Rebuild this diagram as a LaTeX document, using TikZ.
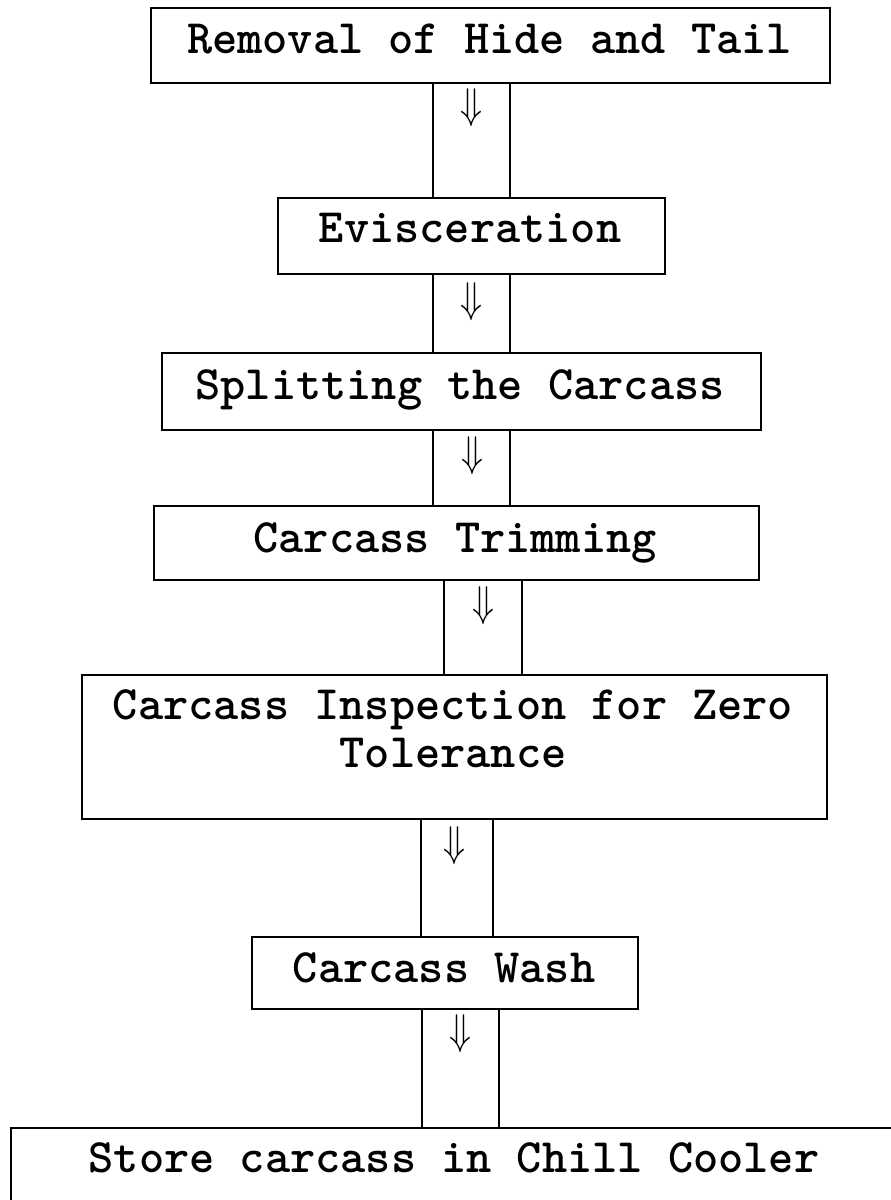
\documentclass[tikz,border=0pt]{standalone}
\begin{document}
\begin{tikzpicture}[x=1pt,y=-1pt,
  box/.style={draw, line width=1.6pt, inner sep=0pt, anchor=north west},
  lbl/.style={font=\ttfamily\bfseries\fontsize{48}{54}\selectfont, anchor=base, inner sep=0pt},
  flow/.style={inner sep=0pt},
  wall/.style={line width=1.6pt}]
\useasboundingbox (0,0) rectangle (891,1200);
\clip (0,0) rectangle (891,1200);

% process steps
\node[box, minimum width=679, minimum height=75] (b1) at (150,7) {};
\node[box, minimum width=387, minimum height=76] (b2) at (277,197) {};
\node[box, minimum width=599, minimum height=77] (b3) at (161,352) {};
\node[box, minimum width=605, minimum height=74] (b4) at (153,505) {};
\node[box, minimum width=745, minimum height=144] (b5) at (81,674) {};
\node[box, minimum width=386, minimum height=72] (b6) at (251,936) {};
\node[box, minimum width=1000, minimum height=200] (b7) at (10,1127) {};

% step labels
\node[lbl] (t1) at (489.5,53) {Removal of Hide and Tail};
\node[lbl] (t2) at (470,242) {Evisceration};
\node[lbl] (t3) at (460,399) {Splitting the Carcass};
\node[lbl] (t4) at (455,552) {Carcass Trimming};
\node[lbl] (t5a) at (453,719) {Carcass Inspection for Zero};
\node[lbl] (t5b) at (453,767) {Tolerance};
\node[lbl] (t6) at (444,982) {Carcass Wash};
\node[lbl] (t7) at (454,1172) {Store carcass in Chill Cooler};

% channel walls between steps
\coordinate (s1l) at (433,0); \coordinate (s1r) at (510,0);
\coordinate (s2l) at (433,0); \coordinate (s2r) at (510,0);
\coordinate (s3l) at (433,0); \coordinate (s3r) at (510,0);
\coordinate (s4l) at (444,0); \coordinate (s4r) at (522,0);
\coordinate (s5l) at (421,0); \coordinate (s5r) at (493,0);
\coordinate (s6l) at (422,0); \coordinate (s6r) at (499,0);

\draw[wall] (b1.south -| s1l) -- (b2.north -| s1l);
\draw[wall] (b1.south -| s1r) -- (b2.north -| s1r);
\draw[wall] (b2.south -| s2l) -- (b3.north -| s2l);
\draw[wall] (b2.south -| s2r) -- (b3.north -| s2r);
\draw[wall] (b3.south -| s3l) -- (b4.north -| s3l);
\draw[wall] (b3.south -| s3r) -- (b4.north -| s3r);
\draw[wall] (b4.south -| s4l) -- (b5.north -| s4l);
\draw[wall] (b4.south -| s4r) -- (b5.north -| s4r);
\draw[wall] (b5.south -| s5l) -- (b6.north -| s5l);
\draw[wall] (b5.south -| s5r) -- (b6.north -| s5r);
\draw[wall] (b6.south -| s6l) -- (b7.north -| s6l);
\draw[wall] (b6.south -| s6r) -- (b7.north -| s6r);

% flow arrows inside the channels
\newcommand{\flowarrow}{\scalebox{3.6}[4.3]{$\Downarrow$}}
\node[flow] (a1) at (471,107.5) {\flowarrow};
\node[flow] (a2) at (471,302) {\flowarrow};
\node[flow] (a3) at (472,456) {\flowarrow};
\node[flow] (a4) at (483,606) {\flowarrow};
\node[flow] (a5) at (454,846) {\flowarrow};
\node[flow] (a6) at (460,1034) {\flowarrow};
\end{tikzpicture}
\end{document}
